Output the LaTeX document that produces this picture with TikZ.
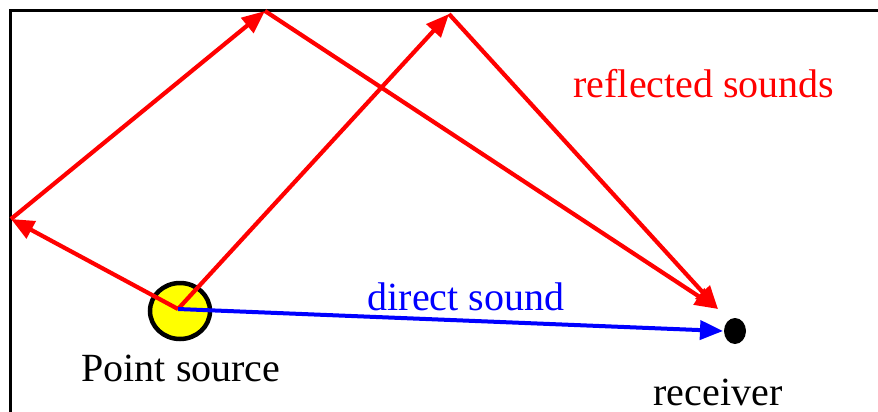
\documentclass[tikz,border=0pt]{standalone}
\usepackage{fontspec}
\setmainfont{Liberation Serif}
\usetikzlibrary{arrows.meta,shapes.geometric}
\begin{document}
\begin{tikzpicture}[x=1pt,y=-1pt,
  ray/.style={line width=4.2pt,-{Triangle[length=23pt,width=19pt]}},
  redray/.style={ray,draw={rgb,255:red,255;green,0;blue,0}},
  blueray/.style={ray,draw={rgb,255:red,0;green,0;blue,255},line width=4pt},
  lbl/.style={font=\fontsize{40}{40}\selectfont,anchor=base,inner sep=0pt}]
\useasboundingbox (0,0) rectangle (878,412);
\draw[line width=3pt,line cap=rect] (10.5,412) -- (10.5,11) -- (878,11);
\node[ellipse,draw=black,line width=4.5pt,fill={rgb,255:red,255;green,255;blue,0},
  minimum width=60pt,minimum height=56pt,inner sep=0pt] (src) at (180,311) {};
\node[ellipse,fill=black,minimum width=22pt,minimum height=26pt,inner sep=0pt] (rcv) at (735,331) {};
\coordinate (s) at (178,309);
\coordinate (wl) at (11,219);
\coordinate (t1) at (265,11);
\coordinate (t2) at (449,14);
\coordinate (r) at (718,309);
\coordinate (b) at (723,331);
\draw[redray] (s) -- (wl);
\draw[redray] (wl) -- (t1);
\draw[redray] (t1) -- (r);
\draw[redray] (s) -- (t2);
\draw[redray] (t2) -- (r);
\draw[blueray] (s) -- (b);
\node[lbl,text={rgb,255:red,255;green,0;blue,0}] (lr) at (704,97) {reflected sounds};
\node[lbl,text={rgb,255:red,0;green,0;blue,255}] (ld) at (466,310) {direct sound};
\node[lbl] (lp) at (181,381) {Point source};
\node[lbl] (lv) at (718,405) {receiver};
\end{tikzpicture}
\end{document}
